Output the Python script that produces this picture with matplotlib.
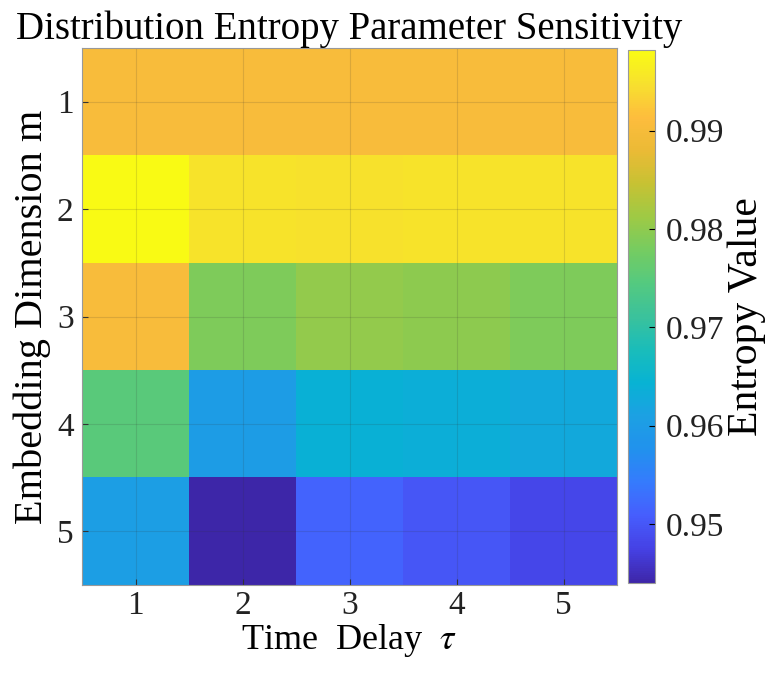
import numpy as np
import matplotlib.pyplot as plt
from matplotlib.colors import LinearSegmentedColormap

# data: rows = embedding dimension m, cols = time delay tau
m_vals = [1, 2, 3, 4, 5]
tau_vals = [1, 2, 3, 4, 5]
row_m1 = [0.9905, 0.9905, 0.9905, 0.9905, 0.9905]
row_m2 = [0.9982, 0.9952, 0.9950, 0.9952, 0.9951]
row_m3 = [0.9905, 0.9787, 0.9803, 0.9798, 0.9787]
row_m4 = [0.9750, 0.9600, 0.9640, 0.9635, 0.9625]
row_m5 = [0.9605, 0.9440, 0.9516, 0.9500, 0.9482]
clim = (0.9440, 0.9982)

# approximate MATLAB parula
parula_pts = [(0.2422, 0.1504, 0.6603), (0.2717, 0.2545, 0.8954),
              (0.2760, 0.3670, 0.9920), (0.2090, 0.4810, 0.9930),
              (0.1300, 0.5700, 0.9300), (0.1100, 0.6300, 0.8900),
              (0.0300, 0.7000, 0.8300), (0.1000, 0.7400, 0.7300),
              (0.2300, 0.7600, 0.6100), (0.3300, 0.7900, 0.5000),
              (0.4600, 0.8000, 0.3800), (0.6200, 0.7900, 0.2700),
              (0.7800, 0.7600, 0.2000), (0.9200, 0.7300, 0.2100),
              (0.9950, 0.7400, 0.2400), (0.9700, 0.8800, 0.1800),
              (0.9769, 0.9839, 0.0805)]
parula = LinearSegmentedColormap.from_list('parula', parula_pts, N=256)

Z = np.array([row_m1, row_m2, row_m3, row_m4, row_m5])

plt.rcParams['font.family'] = ['Liberation Serif', 'DejaVu Serif']
plt.rcParams['mathtext.fontset'] = 'stix'

fig = plt.figure(figsize=(7.71, 6.75), dpi=100)
ax = fig.add_axes([82/771, 1 - 585/675, 535/771, 537/675])
cax = fig.add_axes([628/771, 1 - 583/675, 27/771, 533/675])

im = ax.imshow(Z, cmap=parula, vmin=clim[0], vmax=clim[1], aspect='auto',
               extent=[0.5, 5.5, 5.5, 0.5], interpolation='nearest')
ax.set_xticks(tau_vals)
ax.set_yticks(m_vals)
ax.tick_params(direction='in', length=4, labelsize=24, color='#333333',
               labelcolor='#222222', pad=6)
ax.tick_params(axis='x', pad=4)
ax.grid(True, color='#333333', alpha=0.15, linewidth=0.8)
for s in ax.spines.values():
    s.set_color('#999999')
    s.set_linewidth(0.8)

ax.set_title('Distribution Entropy Parameter Sensitivity', fontsize=28, pad=4)
ax.set_xlabel('Time  Delay  $\\tau$', fontsize=26, labelpad=1)
ax.set_ylabel('Embedding Dimension m', fontsize=29, labelpad=4)

cb = fig.colorbar(im, cax=cax)
cb.set_ticks([0.95, 0.96, 0.97, 0.98, 0.99])
cb.ax.tick_params(direction='in', length=4, labelsize=24, labelcolor='#222222', pad=8)
cb.outline.set_edgecolor('#999999')
cb.set_label('Entropy Value', fontsize=30, labelpad=2)

fig.savefig('out.png', dpi=100)
